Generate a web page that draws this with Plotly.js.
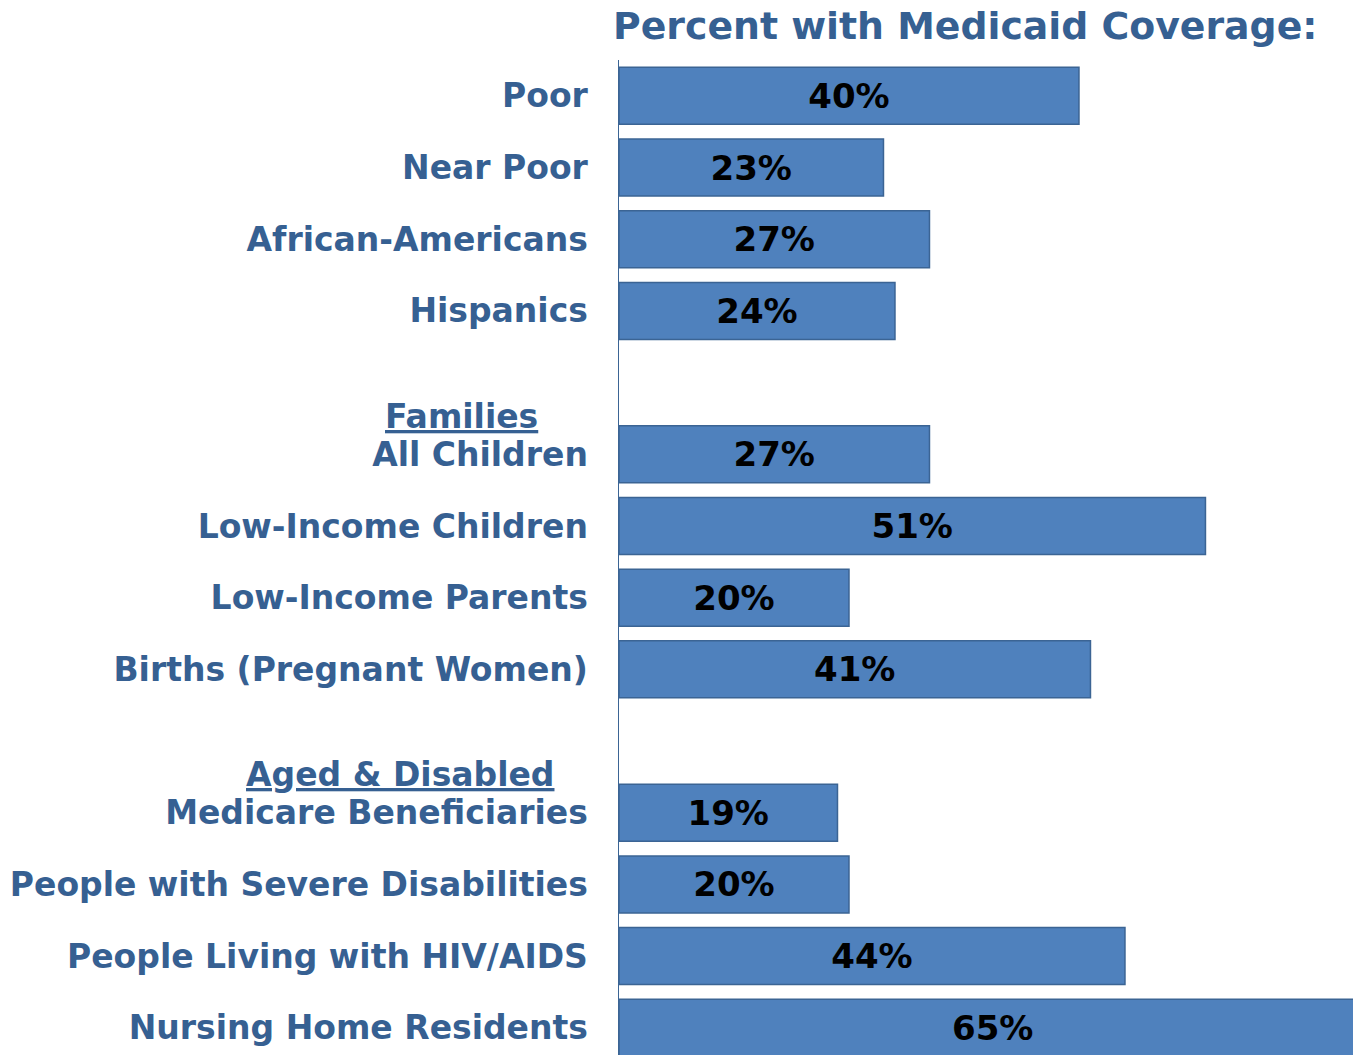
<!DOCTYPE html>
<html>
<head>
<meta charset="utf-8">
<script src="https://cdn.plot.ly/plotly-3.0.1.min.js"></script>
<style>
  html, body { margin: 0; padding: 0; background: #fff; overflow: hidden; }
  #chart { width: 1353px; height: 1055px; }
</style>
</head>
<body>
<div id="chart"></div>
<script>
// ---- data ----
const groupGeneral = ["Poor", "Near Poor", "African-Americans", "Hispanics"];
const valuesGeneral = [40, 23, 27, 24];

const groupFamilies = ["All Children", "Low-Income Children", "Low-Income Parents", "Births (Pregnant Women)"];
const valuesFamilies = [27, 51, 20, 41];

const groupAged = ["Medicare Beneficiaries", "People with Severe Disabilities", "People Living with HIV/AIDS", "Nursing Home Residents"];
const valuesAged = [19, 20, 44, 65];

const headerFamilies = "Families";
const headerAged = "Aged & Disabled";
const chartTitle = "Percent with Medicaid Coverage:";

// ---- build ----
const categories = [...groupGeneral, ...groupFamilies, ...groupAged];
const values = [...valuesGeneral, ...valuesFamilies, ...valuesAged];
const categoryOrder = [...groupGeneral, " ", ...groupFamilies, "  ", ...groupAged];

const textBlue = "#366092";
const fontFam = "DejaVu Sans, Verdana, sans-serif";
const labelSize = 33;

const trace = {
  type: "bar",
  orientation: "h",
  y: categories,
  x: values,
  marker: { color: "#4F81BD", line: { color: "#3B6494", width: 1.5 } },
  texttemplate: "%{x}%",
  textposition: "inside",
  insidetextanchor: "middle",
  constraintext: "none",
  textangle: 0,
  textfont: { family: fontFam, size: 34, color: "#000000", weight: "bold" },
  hoverinfo: "none",
  cliponaxis: true
};

const layout = {
  width: 1353,
  height: 1055,
  margin: { l: 619, r: 0, t: 60, b: 0, pad: 0 },
  paper_bgcolor: "#ffffff",
  plot_bgcolor: "#ffffff",
  showlegend: false,
  bargap: 0.205,
  title: {
    text: chartTitle,
    font: { family: fontFam, size: 37.8, color: textBlue, weight: "bold" },
    xref: "container", x: 613 / 1353, xanchor: "left",
    yref: "container", y: 1 - 26 / 1055, yanchor: "middle"
  },
  xaxis: {
    range: [0, 63.83],
    showgrid: false, zeroline: false, showline: false,
    showticklabels: false, ticks: "", fixedrange: true
  },
  yaxis: {
    type: "category",
    categoryorder: "array",
    categoryarray: categoryOrder,
    range: [13.38, -0.5],
    showgrid: false, zeroline: false,
    showline: true, linecolor: "#3B6494", linewidth: 1.5,
    ticks: "",
    ticklabelstandoff: 23,
    tickfont: { family: fontFam, size: labelSize, color: textBlue, weight: "bold" },
    fixedrange: true
  },
  annotations: [
    {
      text: "<u>" + headerFamilies + "</u>",
      xref: "paper", x: (461.5 - 619) / 734, xanchor: "center",
      yref: "y", y: groupFamilies[0], yshift: 38, yanchor: "middle",
      showarrow: false,
      font: { family: fontFam, size: labelSize, color: textBlue, weight: "bold" }
    },
    {
      text: "<u>" + headerAged + "</u>",
      xref: "paper", x: (400 - 619) / 734, xanchor: "center",
      yref: "y", y: groupAged[0], yshift: 38, yanchor: "middle",
      showarrow: false,
      font: { family: fontFam, size: labelSize, color: textBlue, weight: "bold" }
    }
  ]
};

Plotly.newPlot("chart", [trace], layout, { displayModeBar: false, staticPlot: true });
</script>
</body>
</html>
